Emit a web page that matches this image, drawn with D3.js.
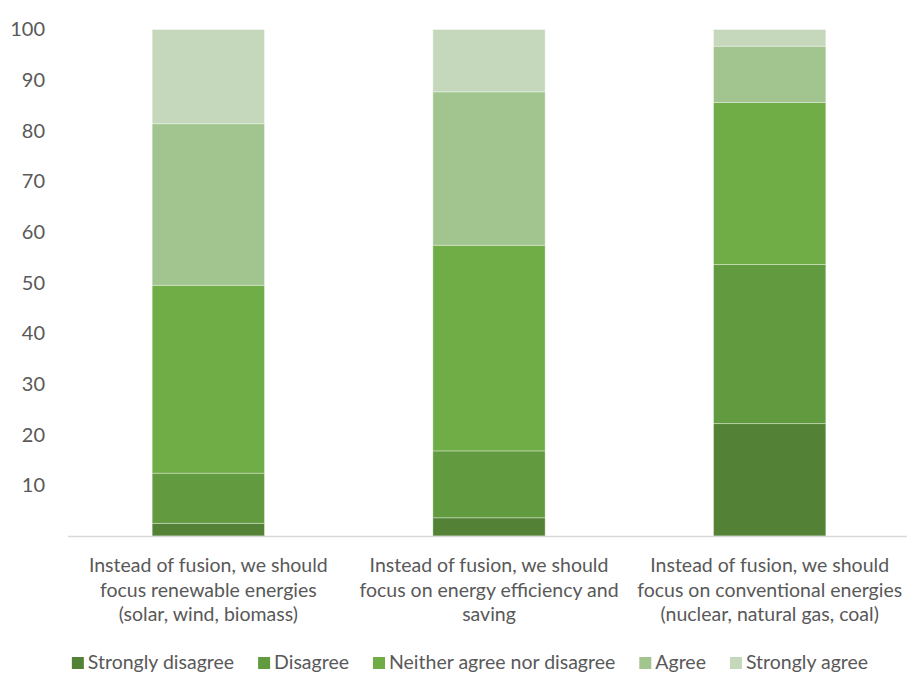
<!DOCTYPE html>
<html>
<head>
<meta charset="utf-8">
<script src="https://cdn.jsdelivr.net/npm/d3@7"></script>
<style>
  html, body { margin: 0; padding: 0; background: #fff; }
  svg { display: block; font-family: Lato, "Open Sans", sans-serif; }
</style>
</head>
<body>
<svg id="chart" width="907" height="675"></svg>
<script>
// Survey statements (category axis), split over lines as displayed
const categories = [
  ["Instead of fusion, we should", "focus renewable energies", "(solar, wind, biomass)"],
  ["Instead of fusion, we should", "focus on energy efficiency and", "saving"],
  ["Instead of fusion, we should", "focus on conventional energies", "(nuclear, natural gas, coal)"]
];
// Response levels, bottom to top of each stack
const seriesNames = ["Strongly disagree", "Disagree", "Neither agree nor disagree", "Agree", "Strongly agree"];
const seriesColors = ["#538135", "#629a3f", "#70ad47", "#a2c48f", "#c5d8bc"];

// Percentage of respondents per response, one array per series
const stronglyDisagree = [2.5, 3.6, 22.2];
const disagree = [9.9, 13.2, 31.4];
const neither = [37.1, 40.6, 32.0];
const agree = [31.9, 30.3, 11.1];
const stronglyAgree = [18.6, 12.3, 3.3];

const yTicks = [10, 20, 30, 40, 50, 60, 70, 80, 90, 100];

const seriesValues = [stronglyDisagree, disagree, neither, agree, stronglyAgree];
const rows = categories.map((c, i) => {
  const r = { key: i };
  seriesNames.forEach((s, j) => { r[s] = seriesValues[j][i]; });
  return r;
});

const svg = d3.select("#chart");
const margin = { left: 68, right: -3, top: 29.5, bottom: 139 };
const W = 907, H = 675;

const x = d3.scaleBand()
  .domain(categories.map((c, i) => i))
  .range([margin.left, W - margin.right])
  .paddingInner(0.6)
  .paddingOuter(0.3);

const y = d3.scaleLinear()
  .domain([0, 100])
  .range([H - margin.bottom, margin.top]);

const stack = d3.stack().keys(seriesNames);
const stacked = stack(rows);

// Stacked bars
const layers = svg.append("g").selectAll("g")
  .data(stacked)
  .join("g")
  .attr("fill", (d, i) => seriesColors[i]);

layers.selectAll("rect")
  .data(d => d)
  .join("rect")
  .attr("x", d => x(d.data.key))
  .attr("width", x.bandwidth())
  .attr("y", d => y(d[1]))
  .attr("height", d => y(d[0]) - y(d[1]))
  .attr("stroke", "rgba(255,255,255,0.35)")
  .attr("stroke-width", 1);

// Y axis (labels only)
const yAxis = d3.axisLeft(y).tickValues(yTicks).tickSize(0).tickPadding(0);
const gy = svg.append("g")
  .attr("transform", `translate(${margin.left - 23},0)`)
  .call(yAxis);
gy.select(".domain").remove();
gy.selectAll("text")
  .attr("fill", "#595959")
  .attr("font-size", 20)
  .attr("font-family", "Lato, 'Open Sans', sans-serif");

// Category axis baseline
svg.append("line")
  .attr("x1", margin.left).attr("x2", W)
  .attr("y1", y(0) + 0.5).attr("y2", y(0) + 0.5)
  .attr("stroke", "#d9d9d9").attr("stroke-width", 1.5);

// Category labels
const xLabels = svg.append("g").selectAll("text")
  .data(categories)
  .join("text")
  .attr("text-anchor", "middle")
  .attr("fill", "#595959")
  .attr("font-size", 19.5)
  .attr("x", (d, i) => x(i) + x.bandwidth() / 2)
  .attr("y", 572);
xLabels.selectAll("tspan")
  .data(d => d)
  .join("tspan")
  .attr("x", function () { return d3.select(this.parentNode).attr("x"); })
  .attr("dy", (d, i) => i === 0 ? 0 : 24.5)
  .text(d => d);

// Legend
const legend = svg.append("g");
const items = legend.selectAll("g")
  .data(seriesNames)
  .join("g");
items.append("rect")
  .attr("width", 12).attr("height", 12)
  .attr("y", -12)
  .attr("fill", (d, i) => seriesColors[i]);
items.append("text")
  .attr("x", 16)
  .attr("fill", "#595959")
  .attr("font-size", 19.5)
  .text(d => d);

let cursor = 0;
const positions = [];
items.each(function () {
  positions.push(cursor);
  cursor += this.getBBox().width + 24;
});
const total = cursor - 24;
const start = 470 - total / 2;
items.attr("transform", (d, i) => `translate(${start + positions[i]},669)`);
</script>
</body>
</html>
